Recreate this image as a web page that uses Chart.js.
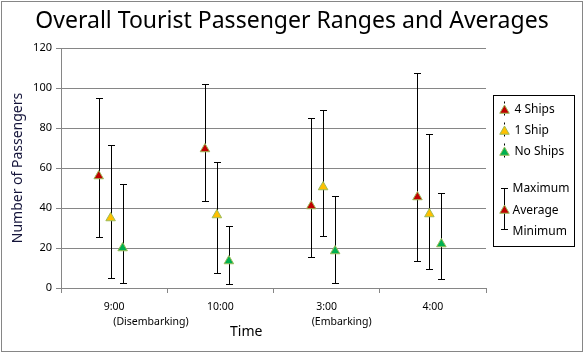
<!DOCTYPE html>
<html>
<head>
<meta charset="utf-8">
<script src="https://cdn.jsdelivr.net/npm/chart.js@4/dist/chart.umd.min.js"></script>
<style>
  html, body { margin: 0; background: #fff; }
</style>
</head>
<body>
<canvas id="c" width="584" height="353"></canvas>
<script>
/* Tourist passengers: average marker with min/max range per time slot */
const categories = ["9:00", "10:00", "3:00", "4:00"];
const subLabels = ["(Disembarking)", "", "(Embarking)", ""];
const seriesNames = ["4 Ships", "1 Ship", "No Ships"];

const avg4 = [56, 69.5, 41, 45.5];
const max4 = [95, 102, 85, 107.5];
const min4 = [25.5, 43.5, 15.5, 13.5];

const avg1 = [35, 36.5, 50.5, 37];
const max1 = [71.5, 63, 89, 77];
const min1 = [5, 7.5, 26, 9.5];

const avg0 = [20, 13.5, 18.5, 22];
const max0 = [52, 31, 46, 47.5];
const min0 = [2.5, 2, 2.5, 4.5];

const yTicks = [0, 20, 40, 60, 80, 100, 120];

/* styling */
const FONT = "'Noto Sans', 'DejaVu Sans', sans-serif";
const GRID = "#868686";
const fills = ["#c00000", "#ffc000", "#00b050"];
const edge = "#9bbb59";
const offsets = [-0.145, -0.033, 0.08]; // within-category spread, in category units
const MARK_R = 5.5;

const avgs = [avg4, avg1, avg0];
const maxs = [max4, max1, max0];
const mins = [min4, min1, min0];

// tick labels: second line padded so it sits where the original put it
const tickLabels = categories.map((c, i) => {
  if (!subLabels[i]) return c;
  const pad = i === 0 ? 27 : 11;
  return [c, " ".repeat(pad) + subLabels[i]];
});

const datasets = seriesNames.map((name, s) => ({
  label: name,
  xAxisID: "xv",
  data: avgs[s].map((v, i) => ({ x: i + 0.5 + offsets[s], y: v })),
  pointStyle: "triangle",
  pointRadius: MARK_R,
  pointHoverRadius: MARK_R,
  backgroundColor: fills[s],
  borderColor: edge,
  borderWidth: 1,
  showLine: false,
}));

function triangle(ctx, x, y, r, fill) {
  ctx.beginPath();
  ctx.moveTo(x, y - r);
  ctx.lineTo(x + r * Math.sin(Math.PI * 2 / 3), y - r * Math.cos(Math.PI * 2 / 3));
  ctx.lineTo(x + r * Math.sin(Math.PI * 4 / 3), y - r * Math.cos(Math.PI * 4 / 3));
  ctx.closePath();
  ctx.fillStyle = fill;
  ctx.fill();
  ctx.lineWidth = 1;
  ctx.strokeStyle = edge;
  ctx.stroke();
}

/* range bars drawn under the markers */
const rangeBars = {
  id: "rangeBars",
  beforeDatasetsDraw(chart) {
    const ctx = chart.ctx;
    const y = chart.scales.y;
    ctx.save();
    ctx.strokeStyle = "#000";
    ctx.lineWidth = 1;
    chart.data.datasets.forEach((ds, s) => {
      const meta = chart.getDatasetMeta(s);
      meta.data.forEach((pt, i) => {
        const x = Math.round(pt.x) + 0.5;
        const top = Math.round(y.getPixelForValue(maxs[s][i])) + 0.5;
        const bot = Math.round(y.getPixelForValue(mins[s][i])) + 0.5;
        ctx.beginPath();
        ctx.moveTo(x, top); ctx.lineTo(x, bot);
        ctx.moveTo(x - 3.5, top); ctx.lineTo(x + 3.5, top);
        ctx.moveTo(x - 3.5, bot); ctx.lineTo(x + 3.5, bot);
        ctx.stroke();
      });
    });
    ctx.restore();
  },
};

/* custom legend + outer frame */
const legendBox = {
  id: "legendBox",
  afterDraw(chart) {
    const ctx = chart.ctx;
    const x0 = Math.round(chart.chartArea.right) + 7.5;
    const y0 = 95.5;
    ctx.save();
    ctx.strokeStyle = "#000";
    ctx.lineWidth = 1;
    ctx.strokeRect(x0, y0, 81, 151);

    ctx.font = "12px " + FONT;
    ctx.textBaseline = "middle";
    ctx.textAlign = "left";
    const mx = x0 + 11;
    chart.data.datasets.forEach((ds, s) => {
      const cy = y0 + 14 + s * 21;
      ctx.save();
      ctx.setLineDash([2, 2]);
      ctx.strokeStyle = "#000";
      ctx.beginPath();
      ctx.moveTo(mx, cy - 8); ctx.lineTo(mx, cy + 8);
      ctx.stroke();
      ctx.restore();
      triangle(ctx, mx, cy + 1, MARK_R, ds.backgroundColor);
      ctx.fillStyle = "#000";
      ctx.fillText(ds.label, x0 + 21, cy);
    });

    // range key
    const ky = y0 + 93;
    ctx.strokeStyle = "#000";
    ctx.beginPath();
    ctx.moveTo(mx, ky); ctx.lineTo(mx, ky + 41);
    ctx.moveTo(mx - 3.5, ky); ctx.lineTo(mx + 3.5, ky);
    ctx.moveTo(mx - 3.5, ky + 41); ctx.lineTo(mx + 3.5, ky + 41);
    ctx.stroke();
    triangle(ctx, mx, ky + 22, MARK_R, fills[0]);
    ctx.fillStyle = "#000";
    ctx.fillText("Maximum", x0 + 19, ky);
    ctx.fillText("Average", x0 + 19, ky + 22);
    ctx.fillText("Minimum", x0 + 19, ky + 43);

    ctx.strokeStyle = GRID;
    ctx.strokeRect(1.5, 1.5, chart.width - 3, chart.height - 3);
    ctx.restore();
  },
};

new Chart(document.getElementById("c"), {
  type: "scatter",
  data: { labels: categories, datasets },
  options: {
    responsive: false,
    animation: false,
    events: [],
    layout: { padding: 0 },
    plugins: {
      legend: { display: false },
      tooltip: { enabled: false },
      title: {
        display: true,
        text: "Overall Tourist Passenger Ranges and Averages",
        color: "#000",
        font: { family: FONT, size: 23, weight: "normal", lineHeight: 1.2 },
        padding: { top: 8, bottom: 12.4 },
      },
    },
    scales: {
      x: {
        type: "category",
        labels: tickLabels,
        offset: true,
        grid: { offset: true, drawOnChartArea: false, tickLength: 5, color: GRID },
        border: { color: GRID },
        ticks: { color: "#000", font: { family: FONT, size: 10.5, lineHeight: 1.4 }, padding: 7, maxRotation: 0, autoSkip: false },
        title: {
          display: true,
          text: "Time" + " ".repeat(15),
          color: "#000",
          font: { family: FONT, size: 14, lineHeight: 1.2 },
          padding: { top: 0, bottom: 13 },
        },
        afterFit: (s) => { s.height = 65; },
      },
      xv: {
        type: "linear",
        display: false,
        min: 0,
        max: categories.length,
      },
      y: {
        min: yTicks[0],
        max: yTicks[yTicks.length - 1],
        afterBuildTicks: (s) => { s.ticks = yTicks.map((v) => ({ value: v })); },
        grid: { color: GRID, tickLength: 5 },
        border: { color: GRID },
        ticks: { color: "#000", font: { family: FONT, size: 11 }, padding: 4 },
        title: {
          display: true,
          text: "Number of Passengers",
          color: "#14143a",
          font: { family: FONT, size: 14, lineHeight: 1.2 },
          padding: { top: 10, bottom: 0 },
        },
        afterFit: (s) => { s.width = 61; },
      },
      // empty right-hand box that reserves room for the legend
      legendSpace: {
        type: "linear",
        position: "right",
        display: true,
        grid: { display: false, drawTicks: false },
        border: { display: false },
        ticks: { display: false },
        afterFit: (s) => { s.width = 98; },
      },
    },
  },
  plugins: [rangeBars, legendBox],
});
</script>
</body>
</html>
